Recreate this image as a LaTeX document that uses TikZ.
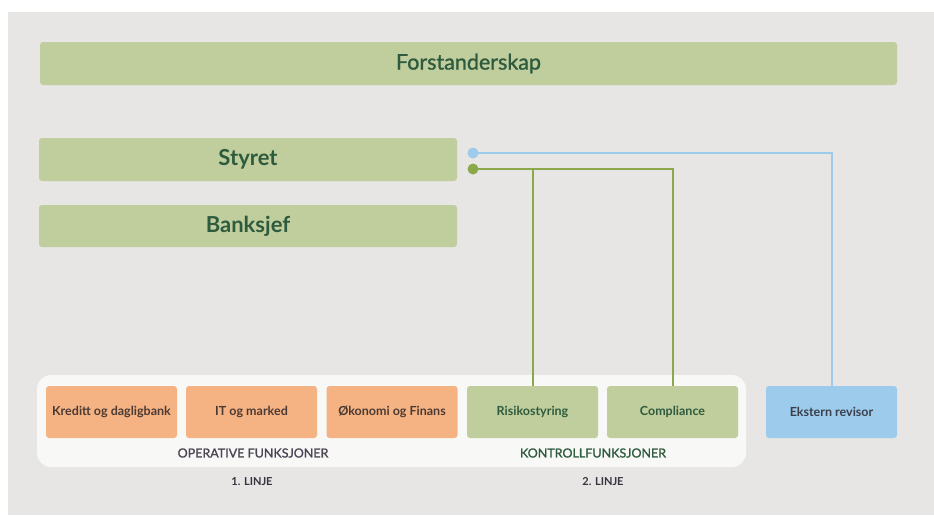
\documentclass[tikz,border=0pt]{standalone}
\usepackage{fontspec}
\setmainfont{Lato}
\newfontfamily\latomedium[FakeBold=1.2]{Lato}
\definecolor{bggrey}{HTML}{E7E6E4}
\definecolor{panel}{HTML}{F8F8F6}
\definecolor{leaf}{HTML}{C0CD9D}
\definecolor{leaftext}{HTML}{2E5B3E}
\definecolor{apricot}{HTML}{F5B383}
\definecolor{apricottext}{HTML}{4B3A33}
\definecolor{sky}{HTML}{9DCBEC}
\definecolor{skytext}{HTML}{3B3F4B}
\definecolor{moss}{HTML}{8BA84A}
\definecolor{labeltext}{HTML}{4A4453}
\definecolor{linjetext}{HTML}{35343F}
\begin{document}
\begin{tikzpicture}[x=1pt,y=-1pt,
    topbox/.style={fill=leaf,rounded corners=3pt,inner sep=0pt,text=leaftext,minimum height=43pt},
    unitbox/.style={rounded corners=3pt,inner sep=0pt,minimum width=131pt,minimum height=52pt,font=\fontsize{12.5}{14}\selectfont\bfseries},
    opbox/.style={unitbox,fill=apricot,text=apricottext},
    ctrlbox/.style={unitbox,fill=leaf,text=leaftext},
    revbox/.style={unitbox,fill=sky,text=skytext},
    linjelabel/.style={font=\fontsize{11}{12}\selectfont\bfseries,text=linjetext}]
    \useasboundingbox (0,0) rectangle (934,515);
    \fill[bggrey] (8,12) rectangle (934,515);
    \fill[panel,rounded corners=14pt] (37,375) rectangle (746,467);
    % top levels
    \node[topbox,minimum width=857pt,font=\fontsize{21.5}{24}\latomedium] (forstand) at (468.5,63.5) {Forstanderskap};
    \node[topbox,minimum width=418pt,font=\fontsize{22}{24}\selectfont\bfseries] (styret) at (248,159.5) {Styret};
    \node[topbox,minimum width=418pt,minimum height=42pt,font=\fontsize{22}{24}\selectfont\bfseries] (banksjef) at (248,226) {Banksjef};
    % bottom row
    \node[opbox] (kreditt) at (111.5,412) {Kreditt og dagligbank};
    \node[opbox] (itmarked) at (251.5,412) {IT og marked};
    \node[opbox] (okonomi) at (392,412) {Økonomi og Finans};
    \node[ctrlbox] (risiko) at (532.5,412) {Risikostyring};
    \node[ctrlbox] (compliance) at (672.5,412) {Compliance};
    \node[revbox] (revisor) at (831.5,412) {Ekstern revisor};
    \node[font=\fontsize{12.5}{14}\latomedium,text=labeltext] (operative) at (253,453) {OPERATIVE FUNKSJONER};
    \node[font=\fontsize{12.5}{14}\latomedium,text=leaftext] (kontroll) at (593,453) {KONTROLLFUNKSJONER};
    \node[linjelabel] (linje1) at (252,482) {1. LINJE};
    \node[linjelabel] (linje2) at (603,482) {2. LINJE};
    % reporting lines
    \coordinate (bluedot) at (473,153);
    \coordinate (greendot) at (473,169);
    \draw[sky,line width=2pt] (bluedot) -| (revisor.north);
    \draw[moss,line width=2pt] (greendot) -| (compliance.north);
    \draw[moss,line width=2pt] (risiko.north) |- (greendot);
    \fill[sky] (bluedot) circle (5.5pt);
    \fill[moss] (greendot) circle (5.5pt);
\end{tikzpicture}
\end{document}
